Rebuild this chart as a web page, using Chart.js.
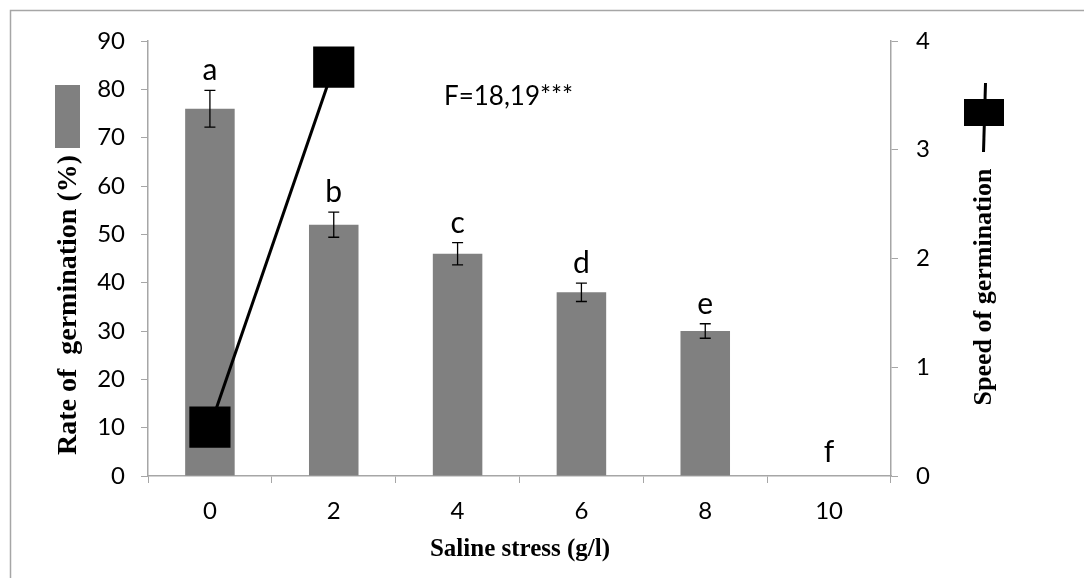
<!DOCTYPE html>
<html>
<head>
<meta charset="utf-8">
<script src="https://cdn.jsdelivr.net/npm/chart.js@4/dist/chart.umd.min.js"></script>
<style>
  body { margin: 0; background: #fff; }
</style>
</head>
<body>
<canvas id="germChart" width="1084" height="578"></canvas>
<script>
// data
var salineLevels = ['0', '2', '4', '6', '8', '10'];
var germinationRate = [76, 52, 46, 38, 30, 0];
var rateError = [3.8, 2.6, 2.3, 1.9, 1.5, 0];
var groupLetters = ['a', 'b', 'c', 'd', 'e', 'f'];
var germinationSpeed = [0.45, 3.76, null, null, null, null];

var axisGray = '#a6a6a6';
var barGray = '#808080';
var tickFont = { family: 'Lato', size: 24 };

// outer frame, like the exported figure border
var framePlugin = {
    id: 'frame',
    beforeDraw: function (chart) {
        var ctx = chart.ctx;
        ctx.save();
        ctx.fillStyle = '#fff';
        ctx.fillRect(0, 0, chart.width, chart.height);
        ctx.strokeStyle = axisGray;
        ctx.lineWidth = 1.5;
        ctx.strokeRect(10.5, 10.5, chart.width + 20, chart.height + 20);
        ctx.restore();
    }
};

// error bars + significance letters over the bars
var errorPlugin = {
    id: 'errorBars',
    afterDatasetsDraw: function (chart) {
        var ctx = chart.ctx;
        var meta = chart.getDatasetMeta(0);
        var y = chart.scales.y;
        ctx.save();
        ctx.strokeStyle = '#000';
        ctx.lineWidth = 1.3;
        ctx.fillStyle = '#000';
        ctx.font = '30px Lato';
        ctx.textAlign = 'center';
        ctx.textBaseline = 'alphabetic';
        meta.data.forEach(function (bar, i) {
            var v = germinationRate[i], e = rateError[i];
            var top = y.getPixelForValue(v + e);
            var bot = y.getPixelForValue(v - e);
            if (e > 0) {
                ctx.beginPath();
                ctx.moveTo(bar.x, top); ctx.lineTo(bar.x, bot);
                ctx.moveTo(bar.x - 5.5, top); ctx.lineTo(bar.x + 5.5, top);
                ctx.moveTo(bar.x - 5.5, bot); ctx.lineTo(bar.x + 5.5, bot);
                ctx.stroke();
            }
            ctx.fillText(groupLetters[i], bar.x, top - (e > 0 ? 10 : 14));
        });
        ctx.font = '26px Lato';
        ctx.textAlign = 'left';
        ctx.fillText('F=18,19***', 444, 105);
        ctx.restore();
    }
};

// the two side keys, drawn rotated like the original
var sideKeys = {
    id: 'sideKeys',
    afterDraw: function (chart) {
        var ctx = chart.ctx;
        ctx.save();
        // left: bar key
        ctx.fillStyle = barGray;
        ctx.fillRect(55, 85, 25, 63);
        ctx.fillStyle = '#000';
        ctx.font = 'bold 28px "Liberation Serif"';
        ctx.textAlign = 'center';
        ctx.textBaseline = 'middle';
        ctx.save();
        ctx.translate(69, 305);
        ctx.rotate(-Math.PI / 2);
        ctx.fillText('Rate of  germination (%)', 0, 0);
        ctx.restore();
        // right: line key
        ctx.strokeStyle = '#000';
        ctx.lineWidth = 3;
        ctx.beginPath();
        ctx.moveTo(985.5, 83);
        ctx.lineTo(983.5, 152);
        ctx.stroke();
        ctx.fillRect(964, 99, 40, 27);
        ctx.font = 'bold 26px "Liberation Serif"';
        ctx.save();
        ctx.translate(984, 287);
        ctx.rotate(-Math.PI / 2);
        ctx.fillText('Speed of germination', 0, 0);
        ctx.restore();
        // x title
        ctx.font = 'bold 25px "Liberation Serif"';
        ctx.fillText('Saline stress (g/l)', 520, 550);
        ctx.restore();
    }
};

new Chart(document.getElementById('germChart'), {
    data: {
        labels: salineLevels,
        datasets: [{
            type: 'bar',
            label: 'Rate of germination (%)',
            data: germinationRate,
            backgroundColor: barGray,
            barPercentage: 0.4,
            categoryPercentage: 1,
            yAxisID: 'y',
            order: 2
        }, {
            type: 'line',
            label: 'Speed of germination',
            data: germinationSpeed,
            borderColor: '#000',
            backgroundColor: '#000',
            borderWidth: 3,
            pointStyle: 'rect',
            pointRadius: 27,
            pointHoverRadius: 27,
            spanGaps: false,
            yAxisID: 'y1',
            order: 1
        }]
    },
    options: {
        responsive: false,
        animation: false,
        layout: { padding: { top: 41, left: 0, right: 0, bottom: 0 } },
        plugins: {
            legend: { display: false },
            tooltip: { enabled: false }
        },
        scales: {
            x: {
                offset: true,
                grid: { offset: true, drawOnChartArea: false, tickLength: 7, color: axisGray },
                border: { color: axisGray, width: 1.5 },
                ticks: { font: tickFont, color: '#000', padding: 14 },
                afterFit: function (s) { s.height = 102; }
            },
            y: {
                position: 'left',
                min: 0, max: 90,
                ticks: { stepSize: 10, font: tickFont, color: '#000', padding: 16 },
                grid: { drawOnChartArea: false, tickLength: 7, color: axisGray },
                border: { color: axisGray, width: 1.5 },
                afterFit: function (s) { s.width = 148; }
            },
            y1: {
                position: 'right',
                min: 0, max: 4,
                ticks: { stepSize: 1, font: tickFont, color: '#000', padding: 18 },
                grid: { drawOnChartArea: false, tickLength: 7, color: axisGray },
                border: { color: axisGray, width: 1.5 },
                afterFit: function (s) { s.width = 193; }
            }
        }
    },
    plugins: [framePlugin, errorPlugin, sideKeys]
});
</script>
</body>
</html>
